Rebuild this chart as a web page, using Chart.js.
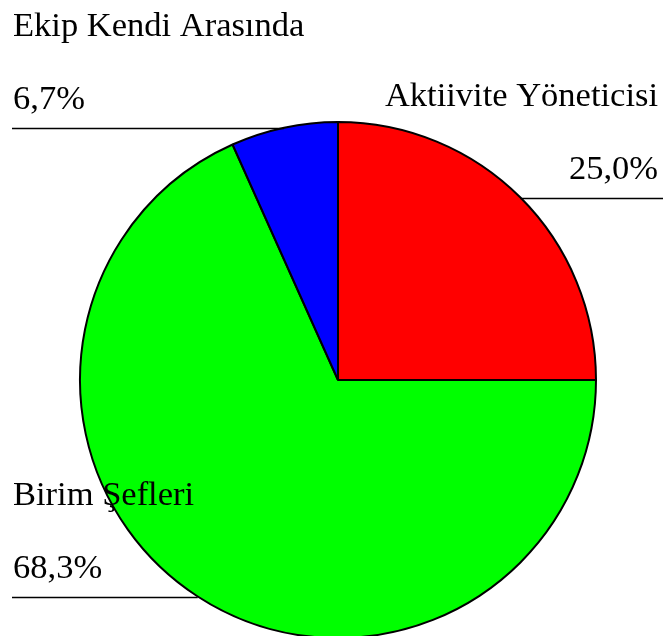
<!DOCTYPE html>
<html>
<head>
<meta charset="utf-8">
<script src="https://cdn.jsdelivr.net/npm/chart.js@4"></script>
<style>
  body { margin: 0; background: #fff; }
  #wrap { width: 665px; height: 636px; position: relative; }
</style>
</head>
<body>
<div id="wrap"><canvas id="pie"></canvas></div>
<script>
// Veriler
const kategoriler = ['Aktiivite Yöneticisi', 'Birim Şefleri', 'Ekip Kendi Arasında'];
const yuzdeler = [25.0, 68.3, 6.7];
const renkler = ['#ff0000', '#00ff00', '#0000ff'];

const fontAdi = '"Liberation Serif", "Times New Roman", serif';

// Etiketler ve kılavuz çizgileri
const etiketEklentisi = {
  id: 'etiketler',
  afterDraw(chart) {
    const ctx = chart.ctx;
    const meta = chart.getDatasetMeta(0);
    ctx.save();
    ctx.font = '34.5px ' + fontAdi;
    ctx.fillStyle = '#000';
    ctx.strokeStyle = '#000';
    ctx.lineWidth = 1.3;
    meta.data.forEach((arc, i) => {
      const p = arc.getProps(['x', 'y', 'startAngle', 'endAngle', 'outerRadius'], true);
      const orta = (p.startAngle + p.endAngle) / 2;
      const px = p.x + Math.cos(orta) * p.outerRadius;
      const py = Math.round(p.y + Math.sin(orta) * p.outerRadius) + 0.5;
      const solda = px < p.x;
      const yuzdeText = yuzdeler[i].toFixed(1).replace('.', ',') + '%';

      ctx.beginPath();
      if (solda) {
        ctx.moveTo(12, py);
        ctx.lineTo(px, py);
      } else {
        ctx.moveTo(px, py);
        ctx.lineTo(663, py);
      }
      ctx.stroke();

      ctx.textBaseline = 'alphabetic';
      ctx.textAlign = solda ? 'left' : 'right';
      const tx = solda ? 13 : 658;
      ctx.fillText(yuzdeText, tx, py - 20);
      ctx.fillText(kategoriler[i], tx, py - 93);
    });
    ctx.restore();
  }
};

new Chart(document.getElementById('pie'), {
  type: 'pie',
  data: {
    labels: kategoriler,
    datasets: [{
      data: yuzdeler,
      backgroundColor: renkler,
      borderColor: '#000',
      borderWidth: 2
    }]
  },
  options: {
    responsive: true,
    maintainAspectRatio: false,
    animation: false,
    radius: 258,
    layout: { padding: { top: 124, left: 11, right: 0, bottom: 0 } },
    plugins: {
      legend: { display: false },
      tooltip: { enabled: false }
    }
  },
  plugins: [etiketEklentisi]
});
</script>
</body>
</html>
